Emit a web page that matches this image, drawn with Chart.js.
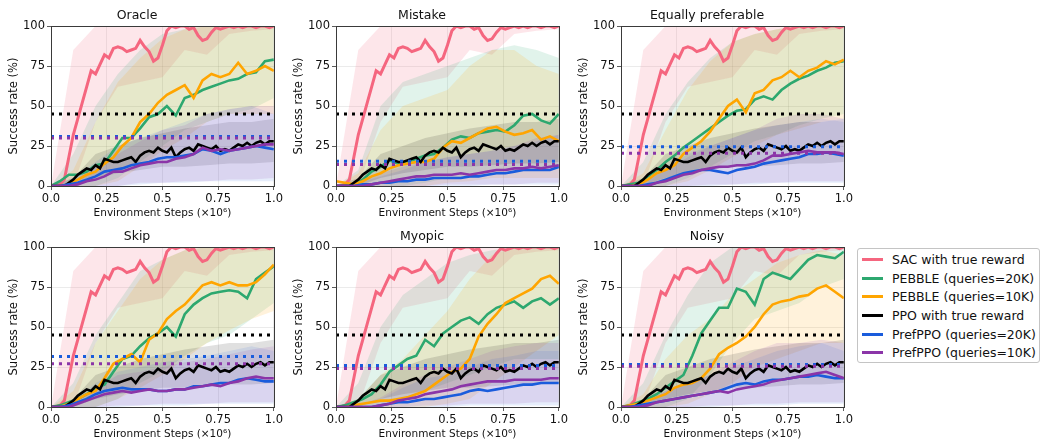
<!DOCTYPE html>
<html>
<head>
<meta charset="utf-8">
<script src="https://cdn.jsdelivr.net/npm/chart.js@4.4.0/dist/chart.umd.min.js"></script>
<style>
  body { margin: 0; background: #fff; width: 1042px; height: 443px; position: relative; overflow: hidden; font-family: 'DejaVu Sans', sans-serif; }
  canvas { position: absolute; }
  #legend { position: absolute; left: 857px; top: 248px; width: 183px; height: 115px; box-sizing: border-box;
            border: 1px solid #c4c4c4; border-radius: 3px; padding-top: 1px; }
  .row { height: 18.7px; display: flex; align-items: center; font-size: 12.5px; color: #111; white-space: nowrap; }
  .sw { width: 21px; height: 3px; margin-left: 4px; margin-right: 9px; }
</style>
</head>
<body>
<canvas id="p0" width="285" height="221" style="left:0;top:0"></canvas>
<canvas id="p1" width="285" height="221" style="left:285px;top:0"></canvas>
<canvas id="p2" width="285" height="221" style="left:570px;top:0"></canvas>
<canvas id="p3" width="285" height="221" style="left:0;top:221px"></canvas>
<canvas id="p4" width="285" height="221" style="left:285px;top:221px"></canvas>
<canvas id="p5" width="285" height="221" style="left:570px;top:221px"></canvas>
<div id="legend"></div>
<script>
// panels, in order: Oracle, Mistake, Equally preferable, Skip, Myopic, Noisy
const panelTitles = ['Oracle', 'Mistake', 'Equally preferable', 'Skip', 'Myopic', 'Noisy'];
const seriesNames = ['SAC with true reward', 'PEBBLE (queries=20K)', 'PEBBLE (queries=10K)',
                     'PPO with true reward', 'PrefPPO (queries=20K)', 'PrefPPO (queries=10K)'];
const seriesColors = ['#f5667f', '#2da86f', '#ffa500', '#000000', '#1a5cdc', '#8b35a8'];
const bandColors = ['rgba(245,102,127,0.16)', 'rgba(45,168,111,0.14)', 'rgba(255,165,0,0.14)',
                    'rgba(0,0,0,0.12)', 'rgba(26,92,220,0.11)', 'rgba(139,53,168,0.13)'];

const xTickValues = [0, 0.25, 0.5, 0.75, 1];
const xTickLabels = ['0.0', '0.25', '0.5', '0.75', '1.0'];
const yTickValues = [0, 25, 50, 75, 100];
const yTickLabels = ['0', '25', '50', '75', '100'];

// x positions (x10^6 steps)
const stepsFine = [0, 0.02, 0.04, 0.06, 0.08, 0.10, 0.12, 0.14, 0.16, 0.18, 0.20, 0.22, 0.24, 0.26, 0.28,
  0.30, 0.32, 0.34, 0.36, 0.38, 0.40, 0.42, 0.44, 0.46, 0.48, 0.50, 0.52, 0.54, 0.56, 0.58, 0.60, 0.62,
  0.64, 0.66, 0.68, 0.70, 0.72, 0.74, 0.76, 0.78, 0.80, 0.82, 0.84, 0.86, 0.88, 0.90, 0.92, 0.94, 0.96, 0.98, 1.0];
const steps = [0, 0.04, 0.08, 0.12, 0.16, 0.20, 0.24, 0.28, 0.32, 0.36, 0.40, 0.44, 0.48, 0.52, 0.56,
  0.60, 0.64, 0.68, 0.72, 0.76, 0.80, 0.84, 0.88, 0.92, 0.96, 1.0];
const bandSteps = [0, 0.1, 0.2, 0.3, 0.4, 0.5, 0.6, 0.7, 0.8, 0.9, 1.0];

// same in every panel
const sacMean = [0, 0, 1, 4, 18, 32, 42, 52, 62, 72, 70, 76, 82, 80, 86, 87, 86, 84, 85, 86, 91, 87, 84, 78, 80,
  88, 97, 100, 99, 100, 100, 98, 99, 94, 91, 92, 96, 99, 98, 99, 100, 99, 100, 99, 100, 100, 99, 100, 100, 99, 100];
const sacLow = [0, 0, 40, 62, 65, 68, 85, 82, 95, 97, 98];
const sacHigh = [0, 85, 100, 100, 100, 100, 100, 100, 100, 100, 100];
const ppoMean = [0, 0, 0, 0, 2, 4, 7, 9, 11, 10, 13, 11, 17, 16, 15, 15, 16, 17, 18, 15, 19, 21, 22, 21, 24,
  22, 21, 24, 18, 21, 23, 24, 22, 26, 25, 24, 23, 25, 22, 23, 22, 24, 26, 25, 27, 25, 27, 28, 26, 28, 28];
const ppoLow = [0, 0, 5, 8, 10, 12, 12, 13, 14, 14, 15];
const ppoHigh = [0, 5, 20, 25, 30, 33, 36, 38, 40, 40, 42];

// one row per panel
const pebble20k = [
  [0, 3, 7, 7, 9, 13, 14, 22, 30, 30, 36, 43, 45, 50, 44, 55, 57, 60, 62, 64, 66, 67, 70, 71, 78, 79],
  [0, 0, 1, 4, 9, 12, 16, 14, 15, 17, 19, 20, 24, 29, 31, 30, 33, 34, 35, 34, 38, 44, 45, 41, 39, 45],
  [0, 1, 2, 6, 10, 15, 19, 24, 28, 32, 36, 40, 44, 47, 48, 54, 56, 54, 60, 64, 67, 69, 72, 74, 77, 78],
  [0, 1, 3, 5, 8, 12, 14, 22, 30, 32, 38, 43, 46, 50, 44, 58, 64, 68, 71, 72, 73, 72, 68, 80, 84, 88],
  [0, 1, 3, 5, 8, 14, 22, 26, 30, 32, 42, 38, 46, 50, 54, 56, 52, 58, 62, 64, 66, 62, 66, 68, 64, 68],
  [0, 1, 3, 5, 8, 12, 16, 20, 32, 46, 54, 62, 62, 74, 72, 64, 80, 84, 82, 80, 86, 92, 95, 94, 93, 97]
];
const pebble10k = [
  [0, 0, 1, 4, 7, 9, 14, 18, 25, 30, 40, 45, 52, 57, 60, 63, 55, 66, 70, 68, 70, 77, 70, 72, 75, 72],
  [3, 2, 1, 3, 6, 8, 11, 13, 14, 15, 15, 17, 24, 28, 27, 30, 33, 36, 37, 34, 32, 33, 35, 29, 31, 28],
  [0, 0, 1, 4, 8, 10, 13, 20, 24, 28, 34, 42, 50, 54, 46, 58, 60, 66, 68, 72, 68, 72, 74, 78, 76, 79],
  [0, 0, 2, 5, 8, 10, 18, 27, 30, 33, 28, 42, 46, 55, 60, 64, 70, 76, 78, 76, 78, 76, 76, 78, 83, 89],
  [0, 0, 1, 2, 3, 4, 4, 5, 6, 8, 10, 14, 18, 22, 24, 30, 44, 52, 58, 65, 68, 71, 74, 80, 82, 77],
  [0, 1, 2, 4, 6, 8, 12, 14, 15, 18, 24, 33, 37, 40, 44, 50, 58, 64, 66, 67, 69, 70, 74, 76, 72, 68]
];
const prefppo20k = [
  [0, 0, 1, 2, 4, 6, 9, 10, 11, 13, 14, 15, 17, 18, 18, 19, 20, 23, 22, 20, 22, 23, 24, 25, 24, 23],
  [0, 0, 0, 1, 1, 2, 2, 3, 3, 4, 4, 5, 5, 5, 5, 6, 6, 7, 8, 8, 9, 10, 10, 10, 10, 12],
  [0, 0, 0, 1, 2, 4, 6, 8, 9, 10, 10, 9, 8, 10, 11, 12, 14, 15, 16, 17, 18, 20, 20, 21, 20, 19],
  [0, 0, 1, 3, 5, 8, 10, 11, 12, 11, 11, 11, 10, 10, 11, 11, 13, 13, 14, 15, 15, 17, 18, 17, 16, 16],
  [0, 0, 0, 0, 0, 1, 2, 3, 3, 4, 5, 5, 6, 7, 8, 10, 11, 10, 11, 12, 13, 14, 14, 15, 15, 15],
  [0, 0, 1, 2, 3, 4, 5, 6, 7, 8, 9, 10, 12, 14, 15, 14, 16, 17, 17, 18, 19, 19, 20, 19, 18, 18]
];
const prefppo10k = [
  [0, 0, 0, 1, 3, 4, 6, 9, 9, 11, 13, 14, 15, 15, 17, 18, 20, 24, 22, 23, 22, 23, 24, 25, 26, 26],
  [0, 0, 0, 0, 1, 2, 3, 4, 5, 6, 6, 7, 7, 7, 8, 7, 8, 9, 10, 10, 11, 11, 12, 11, 12, 13],
  [0, 0, 0, 0, 2, 3, 5, 7, 8, 10, 11, 12, 12, 13, 13, 14, 16, 19, 19, 20, 21, 22, 21, 21, 21, 20],
  [0, 0, 0, 2, 4, 6, 8, 9, 10, 9, 10, 11, 10, 10, 11, 11, 12, 13, 14, 13, 15, 16, 18, 19, 18, 18],
  [0, 0, 0, 0, 0, 1, 2, 4, 5, 6, 8, 9, 10, 11, 13, 14, 15, 16, 16, 16, 17, 17, 17, 17, 18, 18],
  [0, 0, 0, 1, 3, 4, 5, 6, 7, 8, 9, 10, 9, 11, 12, 13, 14, 16, 17, 18, 19, 20, 21, 22, 20, 18]
];

// shaded bands (one row per panel)
const pebble20kLow = [
  [0, 0, 0, 5, 15, 25, 35, 40, 45, 48, 55],
  [0, 0, 0, 0, 2, 5, 5, 8, 10, 10, 12],
  [0, 0, 0, 5, 12, 20, 28, 32, 38, 42, 45],
  [0, 0, 0, 5, 15, 22, 32, 40, 45, 55, 65],
  [0, 0, 0, 5, 10, 15, 20, 25, 30, 30, 30],
  [0, 0, 0, 5, 20, 40, 55, 60, 65, 75, 80]
];
const pebble20kHigh = [
  [0, 20, 50, 70, 85, 95, 98, 100, 100, 100, 100],
  [0, 10, 50, 65, 70, 75, 80, 85, 88, 85, 80],
  [0, 15, 45, 65, 80, 90, 95, 98, 100, 100, 100],
  [0, 15, 45, 65, 85, 92, 98, 100, 100, 100, 100],
  [0, 15, 50, 70, 80, 90, 95, 98, 100, 100, 100],
  [0, 15, 45, 70, 90, 100, 100, 100, 100, 100, 100]
];
const pebble10kLow = [
  [0, 0, 0, 3, 12, 22, 30, 40, 45, 45, 45],
  [0, 0, 0, 0, 0, 2, 3, 5, 5, 5, 5],
  [0, 0, 0, 3, 10, 18, 25, 32, 36, 40, 42],
  [0, 0, 0, 5, 12, 20, 30, 40, 48, 55, 60],
  [0, 0, 0, 0, 0, 2, 5, 15, 25, 35, 45],
  [0, 0, 0, 2, 8, 15, 25, 30, 35, 40, 40]
];
const pebble10kHigh = [
  [0, 10, 40, 65, 80, 92, 98, 100, 100, 100, 100],
  [0, 8, 35, 50, 55, 60, 75, 85, 85, 75, 70],
  [0, 8, 35, 60, 78, 90, 95, 98, 100, 100, 100],
  [0, 10, 40, 60, 80, 92, 98, 100, 100, 100, 100],
  [0, 5, 20, 30, 45, 60, 80, 95, 100, 100, 100],
  [0, 8, 30, 45, 55, 70, 80, 90, 95, 98, 95]
];
const prefppo20kLow = [
  [0, 0, 0, 0, 1, 2, 2, 3, 3, 3, 3],
  [0, 0, 0, 0, 0, 0, 0, 1, 1, 1, 1],
  [0, 0, 0, 0, 0, 1, 1, 2, 2, 2, 2],
  [0, 0, 0, 0, 1, 1, 1, 2, 2, 2, 2],
  [0, 0, 0, 0, 0, 0, 1, 1, 1, 1, 1],
  [0, 0, 0, 0, 0, 1, 1, 1, 2, 2, 2]
];
const prefppo20kHigh = [
  [0, 5, 15, 25, 30, 35, 40, 45, 48, 50, 45],
  [0, 2, 6, 10, 15, 18, 20, 22, 25, 28, 32],
  [0, 3, 12, 20, 25, 30, 35, 38, 40, 42, 40],
  [0, 3, 15, 22, 25, 28, 30, 32, 35, 38, 35],
  [0, 1, 5, 12, 18, 20, 25, 30, 32, 35, 35],
  [0, 3, 10, 15, 20, 25, 30, 35, 38, 40, 35]
];
const prefppo10kLow = [
  [0, 0, 0, 0, 2, 2, 3, 3, 4, 4, 5],
  [0, 0, 0, 0, 0, 1, 1, 1, 1, 2, 2],
  [0, 0, 0, 0, 1, 1, 2, 2, 3, 3, 3],
  [0, 0, 0, 1, 1, 2, 2, 2, 3, 3, 3],
  [0, 0, 0, 0, 1, 1, 2, 2, 2, 3, 3],
  [0, 0, 0, 0, 1, 1, 2, 2, 3, 3, 3]
];
const prefppo10kHigh = [
  [0, 3, 12, 20, 28, 35, 38, 45, 48, 50, 50],
  [0, 2, 8, 12, 15, 18, 20, 22, 25, 30, 32],
  [0, 3, 10, 18, 25, 30, 35, 42, 45, 45, 42],
  [0, 3, 12, 20, 22, 25, 28, 30, 33, 36, 38],
  [0, 1, 6, 14, 20, 25, 30, 35, 38, 40, 40],
  [0, 3, 10, 15, 20, 28, 35, 40, 40, 42, 40]
];

// dotted reference levels
const ppoRef = 45;
const prefppo20kRef = [31, 15.5, 24.5, 31.5, 26, 26.5];
const prefppo10kRef = [30, 13.5, 20.5, 27, 24, 25.5];

Chart.defaults.font.family = "'DejaVu Sans', sans-serif";

const pts = (xs, ys) => xs.map((x, i) => ({ x: x, y: ys[i] }));

const boxPlugin = {
  id: 'box',
  afterDraw(chart) {
    const { ctx, chartArea: a } = chart;
    ctx.save();
    ctx.strokeStyle = '#3a3a3a';
    ctx.lineWidth = 1;
    ctx.strokeRect(Math.round(a.left) + 0.5, Math.round(a.top) + 0.5, Math.round(a.width), Math.round(a.height));
    ctx.restore();
  }
};

function buildPanel(p) {
  const bands = [];
  const lines = [];
  const addBand = (lo, hi, color) => {
    bands.push({ data: pts(bandSteps, lo), borderWidth: 0, pointRadius: 0, fill: false, backgroundColor: color });
    bands.push({ data: pts(bandSteps, hi), borderWidth: 0, pointRadius: 0, fill: '-1', backgroundColor: color });
  };
  const addLine = (xs, ys, color, w) => {
    lines.push({ data: pts(xs, ys), borderColor: color, borderWidth: w, pointRadius: 0, fill: false, tension: 0 });
  };
  const addRef = (v, color) => {
    lines.push({ data: [{ x: 0, y: v }, { x: 1, y: v }], borderColor: color, borderWidth: 3,
                 borderDash: [3, 5], borderCapStyle: 'butt', pointRadius: 0, fill: false });
  };

  addBand(sacLow, sacHigh, bandColors[0]);
  addBand(pebble20kLow[p], pebble20kHigh[p], bandColors[1]);
  addBand(pebble10kLow[p], pebble10kHigh[p], bandColors[2]);
  addBand(ppoLow, ppoHigh, bandColors[3]);
  addBand(prefppo20kLow[p], prefppo20kHigh[p], bandColors[4]);
  addBand(prefppo10kLow[p], prefppo10kHigh[p], bandColors[5]);

  addLine(stepsFine, sacMean, seriesColors[0], 3);
  addLine(steps, pebble20k[p], seriesColors[1], 2.6);
  addLine(steps, pebble10k[p], seriesColors[2], 2.6);
  addLine(stepsFine, ppoMean, seriesColors[3], 2.6);
  addLine(steps, prefppo20k[p], seriesColors[4], 2.6);
  addLine(steps, prefppo10k[p], seriesColors[5], 2.6);

  addRef(ppoRef, seriesColors[3]);
  addRef(prefppo20kRef[p], seriesColors[4]);
  addRef(prefppo10kRef[p], seriesColors[5]);

  const datasets = bands.concat(lines);
  // later datasets on top, like matplotlib
  datasets.forEach((d, i) => { d.order = datasets.length - i; d.clip = 0; });

  new Chart(document.getElementById('p' + p), {
    type: 'line',
    data: { datasets: datasets },
    plugins: [boxPlugin],
    options: {
      responsive: false,
      animation: false,
      events: [],
      layout: { padding: { left: 0, right: 11, top: 0, bottom: 0 } },
      plugins: {
        legend: { display: false },
        tooltip: { enabled: false },
        title: { display: true, text: panelTitles[p], color: '#111',
                 font: { size: 12.5, weight: 'normal', lineHeight: 1.2 }, padding: { top: 8, bottom: 3 } }
      },
      scales: {
        x: {
          type: 'linear', min: 0, max: 1,
          afterBuildTicks: s => { s.ticks = xTickValues.map(v => ({ value: v })); },
          afterFit: s => { s.height = 35; },
          ticks: { callback: (v, i) => xTickLabels[i], color: '#111', font: { size: 11.5 },
                   padding: 2, maxRotation: 0, autoSkip: false },
          grid: { color: 'rgba(0,0,0,0.1)', lineWidth: 0.8, tickColor: '#333', tickLength: 4 },
          border: { display: false },
          title: { display: true, text: 'Environment Steps (×10⁶)', color: '#111',
                   font: { size: 10.5 }, padding: { top: 0, bottom: 1.5 } }
        },
        y: {
          min: 0, max: 100,
          afterBuildTicks: s => { s.ticks = yTickValues.map(v => ({ value: v })); },
          afterFit: s => { s.width = 51; },
          ticks: { callback: (v, i) => yTickLabels[i], color: '#111', font: { size: 11.5 }, padding: 2 },
          grid: { color: 'rgba(0,0,0,0.1)', lineWidth: 0.8, tickColor: '#333', tickLength: 4 },
          border: { display: false },
          title: { display: true, text: 'Success rate (%)', color: '#111',
                   font: { size: 11.5 }, padding: { top: 7, bottom: 0 } }
        }
      }
    }
  });
}

for (let p = 0; p < panelTitles.length; p++) buildPanel(p);

const legend = document.getElementById('legend');
seriesNames.forEach((name, i) => {
  const row = document.createElement('div');
  row.className = 'row';
  const sw = document.createElement('span');
  sw.className = 'sw';
  sw.style.background = seriesColors[i];
  const tx = document.createElement('span');
  tx.textContent = name;
  row.appendChild(sw);
  row.appendChild(tx);
  legend.appendChild(row);
});
</script>
</body>
</html>
